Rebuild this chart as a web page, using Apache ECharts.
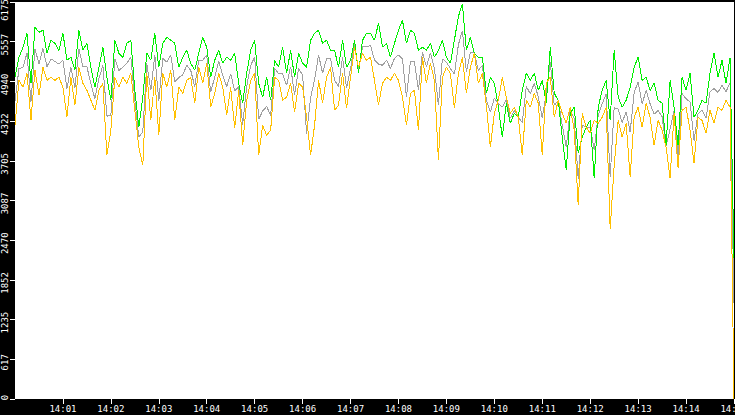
<!DOCTYPE html>
<html>
<head>
<meta charset="utf-8">
<script src="https://cdn.jsdelivr.net/npm/echarts@6/dist/echarts.min.js"></script>
<style>
html,body{margin:0;padding:0;background:#000;}
#chart{width:735px;height:415px;}
#chart svg path{shape-rendering:crispEdges;}
</style>
</head>
<body>
<div id="chart"></div>
<script>
// time step in seconds between samples, start at 14:00:00
const STEP = 5;
const Y_MAX = 6175;
const Y_INTERVAL = 617.5;
const X_MAX = 900;
const X_INTERVAL = 60;

const greenValues = [
  5004,5315,5471,5689,4911,5782,5704,5735,5378,5580,5533,5424,5689,5269,5315,5113,5735,5424,5533,5160,4849,5160,5471,5004,4646,5580,5378,5315,5533,5580,
  4802,4227,4693,5378,5269,5689,5160,5533,5626,5580,5533,5160,5315,5424,5222,5113,5378,5626,5471,5004,5269,5424,5222,5315,5269,5378,4911,4600,5066,5424,
  5580,4911,4693,5004,4646,5269,5160,5471,5066,5424,5004,5378,5222,5160,5580,5689,5735,5533,5580,5424,5424,5160,5580,5160,5269,5580,5066,5580,5689,5689,
  5580,5844,5471,5533,5315,5533,5735,5891,5533,5735,5689,5424,5471,5424,5533,5315,5424,5580,5315,5222,5580,5950,6150,5424,5626,5378,5315,5315,4755,5004,
  4911,4538,4071,4600,4289,4444,4382,4802,5066,4957,5066,4802,4957,4600,5471,4755,4646,4071,3558,4444,4538,3822,4071,4227,4335,3433,4538,4802,4957,4335,
  5424,4693,4538,4646,4849,5160,5315,4957,5004,4802,4911,4646,4600,3946,4957,4538,3946,5004,4802,5066,4382,4491,4646,4600,5066,5378,5004,5269,4911,5300,
  2190
];

const grayValues = [
  4630,5140,5160,5380,4620,5450,5210,5450,5170,5290,5250,5210,5270,4830,5160,4840,5450,5170,5170,4900,4670,4980,5190,4400,4410,5290,5110,5160,5220,5320,
  4650,4070,4160,5220,4800,5350,4630,5300,5240,5350,4930,5000,5040,5190,5110,4860,5270,5270,5350,4770,5010,5250,5040,4860,5060,4790,4860,4270,4860,5190,
  5320,4350,4480,4550,4410,5140,5060,5060,4880,5170,4730,5140,5040,4130,4690,4970,5350,5070,5290,5290,4960,4860,5320,4840,5140,5520,5110,5480,5480,5500,
  5270,5210,5190,5270,5140,5300,5350,5290,4700,5250,5250,4800,5390,5170,5380,5140,4570,5290,5240,5140,5050,5510,5730,5090,5390,5380,5110,5190,4660,4460,
  4680,4590,4540,4650,4370,4490,4380,4300,4860,4750,4910,4700,4370,4760,5240,4570,4640,4260,3920,4490,4360,3420,4260,4230,4230,3880,4410,4590,4750,3450,
  4530,4510,4300,4470,4150,4770,4930,4590,4800,4590,4430,4490,4390,3930,4200,4490,3770,4750,4670,4620,4020,4440,4490,4370,4780,4830,4770,4880,4780,4920,
  1500
];

const orangeValues = [
  4257,4957,4849,5066,4335,5113,4724,5160,4957,5004,4957,5004,4849,4382,5004,4569,5160,4911,4802,4646,4491,4802,4911,3791,4180,5004,4849,5004,4911,5066,
  4491,3915,3635,5066,4335,5004,4102,5066,4849,5113,4335,4849,4755,4957,5004,4600,5160,4911,5222,4538,4755,5066,4849,4413,4849,4211,4802,3946,4646,4957,
  5066,3791,4257,4102,4180,5004,4957,4646,4693,4911,4460,4911,4849,4382,3791,4257,4957,4600,5004,5160,4491,4569,5066,4522,5004,5471,5160,5378,5269,5315,
  4957,4569,4911,5004,4957,5066,4957,4693,4257,4755,4802,4180,5315,4911,5222,4957,3713,5004,5160,5066,4522,5066,5315,4755,5160,5378,4911,5066,4569,3915,
  4444,4646,5004,4693,4444,4538,4382,3791,4646,4538,4755,4600,3791,4911,5004,4382,4646,4444,4289,4538,4180,3013,4444,4227,4133,4335,4289,4382,4538,2640,
  3635,4335,4071,4289,3448,4382,4538,4227,4600,4382,3946,4335,4180,3915,3433,4444,3588,4491,4538,4180,3666,4382,4335,4133,4491,4289,4538,4491,4646,4538,
  0
];

function pairs(values, step) {
  return values.map((v, i) => [i * step, v]);
}

const FONT = { color: '#ffffff', fontFamily: 'DejaVu Sans Mono', fontSize: 9 };

const chart = echarts.init(document.getElementById('chart'), null, { renderer: 'svg' });
chart.setOption({
  animation: false,
  backgroundColor: '#000000',
  grid: {
    left: 15, right: 1, top: 2, bottom: 16,
    containLabel: false,
    outerBoundsMode: 'none',
    show: true, backgroundColor: '#ffffff', borderWidth: 0
  },
  xAxis: {
    type: 'value',
    min: 0, max: X_MAX, interval: X_INTERVAL,
    axisLine: { show: false },
    axisTick: { show: true, length: 5, lineStyle: { color: '#ffffff', width: 1 } },
    splitLine: { show: false },
    axisLabel: Object.assign({
      margin: 5,
      showMinLabel: false,
      showMaxLabel: true,
      hideOverlap: false,
      formatter: function (v) {
        const m = Math.round(v / 60);
        return '14:' + String(m).padStart(2, '0');
      }
    }, FONT)
  },
  yAxis: {
    type: 'value',
    min: 0, max: Y_MAX, interval: Y_INTERVAL,
    axisLine: { show: false },
    axisTick: { show: true, length: 5, lineStyle: { color: '#ffffff', width: 1 } },
    splitLine: { show: false },
    axisLabel: Object.assign({
      rotate: 90,
      margin: 6,
      hideOverlap: false,
      formatter: function (v) {
        const s = String(Math.floor(v + 1e-6));
        if (v >= Y_MAX - 1) return '{t|' + s + '}';
        if (v <= 0) return '{z|' + s + '}';
        return '{n|' + s + '}';
      },
      rich: {
        n: Object.assign({ padding: [0, 6, 0, 0] }, FONT),
        t: Object.assign({ padding: [0, 16, 0, 0] }, FONT),
        z: Object.assign({ padding: [0, 0, 0, 3] }, FONT)
      }
    }, FONT)
  },
  series: [
    {
      name: 'gray', type: 'line', data: pairs(grayValues, STEP),
      showSymbol: false, symbol: 'none', z: 1,
      lineStyle: { color: '#a0a0a0', width: 1 }
    },
    {
      name: 'green', type: 'line', data: pairs(greenValues, STEP),
      showSymbol: false, symbol: 'none', z: 2,
      lineStyle: { color: '#00f000', width: 1 }
    },
    {
      name: 'orange', type: 'line', data: pairs(orangeValues, STEP),
      showSymbol: false, symbol: 'none', z: 3,
      lineStyle: { color: '#ffc000', width: 1 }
    }
  ]
});
</script>
</body>
</html>
